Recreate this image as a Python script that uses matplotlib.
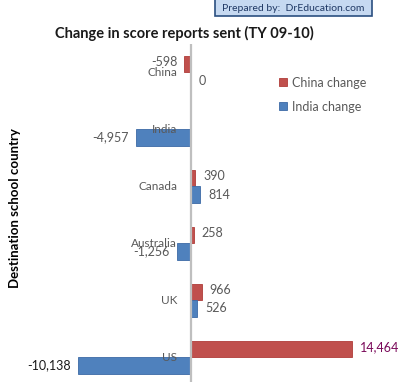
"""Change in score reports sent, China vs India, by destination country."""

import matplotlib

matplotlib.use("Agg")

import matplotlib.pyplot as plt
from matplotlib.patches import Rectangle

countries = ["China", "India", "Canada", "Australia", "UK", "US"]
china_change = [-598, 0, 390, 258, 966, 14464]
india_change = [0, -4957, 814, -1256, 526, -10138]
china_labels = ["-598", "", "390", "258", "966", "14,464"]
india_labels = ["0", "-4,957", "814", "-1,256", "526", "-10,138"]
china_label_colors = ["#595959"] * 5 + ["#7a0a5a"]
india_label_colors = ["#595959"] * 5 + ["#1a1a1a"]

RED = "#c0504d"
BLUE = "#4f81bd"
FONT = "Lato"

plt.rcParams["font.family"] = [FONT, "DejaVu Sans"]

fig = plt.figure(figsize=(4.0, 3.82), dpi=100)
ax = fig.add_axes([0.0, -0.01, 1.0, 0.895])

bar_h = 0.285
ypos = list(range(len(countries)))
china_y = [y - bar_h / 2 for y in ypos]
india_y = [y + bar_h / 2 for y in ypos]

ax.barh(china_y, china_change, height=bar_h, color=RED, edgecolor="#b03c39", linewidth=0.6,
        label="China change")
ax.barh(india_y, india_change, height=bar_h, color=BLUE, edgecolor="#3c6aa6", linewidth=0.6,
        label="India change")
ax.axvline(0, color="#bfbfbf", linewidth=1.6, zorder=3)

ax.set_xlim(-17160, 18776)
ax.set_ylim(5.5, -0.5)
for spine in ax.spines.values():
    spine.set_visible(False)
ax.set_xticks([])
ax.set_yticks([])


def put_value(value, y, text, color):
    if text == "":
        return
    if value >= 0:
        ax.annotate(text, (value, y), xytext=(8, 0), textcoords="offset pixels",
                    ha="left", va="center", fontsize=9, color=color)
    else:
        ax.annotate(text, (value, y), xytext=(-7, 0), textcoords="offset pixels",
                    ha="right", va="center", fontsize=9, color=color)


for i in ypos:
    put_value(china_change[i], china_y[i] - 0.04, china_labels[i], china_label_colors[i])
    put_value(india_change[i], india_y[i], india_labels[i], india_label_colors[i])
    ax.annotate(countries[i], (0, i), xytext=(-14, 0), textcoords="offset pixels",
                ha="right", va="center", fontsize=8.5, color="#595959")

ax.legend(loc="upper left", bbox_to_anchor=(0.67, 0.937), frameon=False, fontsize=9,
          handlelength=0.6, handleheight=0.6, handletextpad=0.4, labelspacing=0.95,
          labelcolor="#595959")

fig.text(0.46, 0.913, "Change in score reports sent (TY 09-10)", ha="center", va="center",
         fontsize=10.5, fontweight="bold", color="#1a1a1a")
fig.text(0.038, 0.455, "Destination school country", rotation=90, ha="center", va="center",
         fontsize=9.5, fontweight="bold", color="#000000")

fig.patches.append(Rectangle((0.538, 0.957), 0.392, 0.05, transform=fig.transFigure,
                             facecolor="#c6d9f1", edgecolor="#2b4f80", linewidth=1.2))
fig.text(0.734, 0.978, "Prepared by:  DrEducation.com", ha="center", va="center",
         fontsize=7.5, color="#1f3864")

fig.savefig("out.png", dpi=100)
